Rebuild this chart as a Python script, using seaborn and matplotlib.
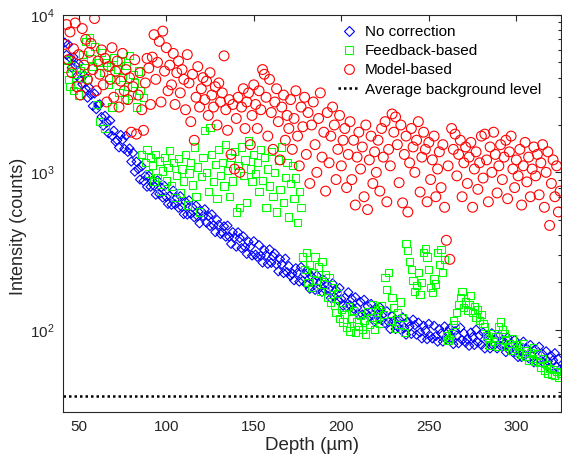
import matplotlib
matplotlib.use("Agg")
import matplotlib.pyplot as plt
import seaborn as sns
import pandas as pd
from matplotlib.lines import Line2D
from matplotlib.ticker import FixedLocator, NullFormatter, LogLocator

# --- data ---
depth = [
    42, 43, 44, 45, 46, 47, 48, 49, 50, 51,
    52, 53, 54, 55, 56, 57, 58, 59, 60, 61,
    62, 63, 64, 65, 66, 67, 68, 69, 70, 71,
    72, 73, 74, 75, 76, 77, 78, 79, 80, 81,
    82, 83, 84, 85, 86, 87, 88, 89, 90, 91,
    92, 93, 94, 95, 96, 97, 98, 99, 100, 101,
    102, 103, 104, 105, 106, 107, 108, 109, 110, 111,
    112, 113, 114, 115, 116, 117, 118, 119, 120, 121,
    122, 123, 124, 125, 126, 127, 128, 129, 130, 131,
    132, 133, 134, 135, 136, 137, 138, 139, 140, 141,
    142, 143, 144, 145, 146, 147, 148, 149, 150, 151,
    152, 153, 154, 155, 156, 157, 158, 159, 160, 161,
    162, 163, 164, 165, 166, 167, 168, 169, 170, 171,
    172, 173, 174, 175, 176, 177, 178, 179, 180, 181,
    182, 183, 184, 185, 186, 187, 188, 189, 190, 191,
    192, 193, 194, 195, 196, 197, 198, 199, 200, 201,
    202, 203, 204, 205, 206, 207, 208, 209, 210, 211,
    212, 213, 214, 215, 216, 217, 218, 219, 220, 221,
    222, 223, 224, 225, 226, 227, 228, 229, 230, 231,
    232, 233, 234, 235, 236, 237, 238, 239, 240, 241,
    242, 243, 244, 245, 246, 247, 248, 249, 250, 251,
    252, 253, 254, 255, 256, 257, 258, 259, 260, 261,
    262, 263, 264, 265, 266, 267, 268, 269, 270, 271,
    272, 273, 274, 275, 276, 277, 278, 279, 280, 281,
    282, 283, 284, 285, 286, 287, 288, 289, 290, 291,
    292, 293, 294, 295, 296, 297, 298, 299, 300, 301,
    302, 303, 304, 305, 306, 307, 308, 309, 310, 311,
    312, 313, 314, 315, 316, 317, 318, 319, 320, 321,
    322, 323, 324, 325,
]

no_correction = [
    6680, 5580, 6500, 5340, 4630, 5400, 4790, 4100, 4900, 3900,
    3630, 4140, 3400, 2980, 3460, 3110, 2640, 3170, 2520, 2680,
    2710, 2250, 1980, 2290, 2070, 1770, 2130, 1710, 1840, 1570,
    1600, 1440, 1730, 1610, 1410, 1710, 1350, 1420, 1170, 1330,
    1010, 1170, 1050, 900, 1090, 880, 950, 810, 950, 810,
    886, 821, 721, 889, 729, 800, 691, 819, 698, 630,
    710, 622, 766, 627, 689, 595, 706, 601, 543, 649,
    539, 665, 545, 599, 518, 615, 525, 474, 567, 528,
    583, 479, 527, 456, 541, 462, 417, 499, 464, 406,
    415, 454, 390, 459, 390, 351, 417, 386, 337, 416,
    382, 330, 392, 335, 303, 362, 337, 296, 365, 300,
    290, 345, 295, 267, 320, 298, 262, 324, 266, 293,
    305, 260, 235, 281, 261, 229, 283, 232, 254, 220,
    227, 206, 246, 230, 202, 250, 205, 226, 195, 232,
    182, 218, 203, 179, 221, 182, 200, 174, 207, 178,
    194, 182, 159, 197, 162, 179, 154, 184, 157, 142,
    160, 141, 173, 143, 157, 136, 161, 138, 125, 150,
    125, 155, 127, 141, 122, 146, 124, 113, 135, 126,
    139, 115, 126, 110, 131, 112, 101, 122, 114, 101,
    105, 116, 100, 120, 103, 93, 112, 105, 94, 116,
    107, 93, 111, 96, 88, 106, 99, 87, 109, 91,
    88, 106, 91, 84, 101, 95, 84, 105, 87, 97,
    102, 88, 81, 98, 92, 82, 103, 86, 95, 83,
    87, 79, 96, 90, 80, 100, 83, 92, 80, 96,
    76, 92, 86, 76, 95, 79, 87, 76, 91, 79,
    86, 81, 72, 89, 74, 82, 72, 86, 74, 67,
    77, 67, 84, 69, 76, 66, 80, 68, 62, 75,
    62, 78, 64, 70, 61, 73, 63, 57, 68, 64,
    71, 58, 65, 56,
]

feedback_based = [
    4600, 5200, 3900, 3500, 4800, 3300, 4200, 3600, 3100, 4400,
    5600, 4600, 6800, 3900, 7200, 5300, 4700, 6300, 2700, 5000,
    2100, 5800, 4300, 1900, 5000, 3600, 4700, 2600, 5400, 3900,
    4500, 3200, 5100, 4000, 2900, 4800, 3500, 5500, 3100, 4200,
    3700, 2600, 4400, 3300, 1300, 3000, 1150, 1400, 980, 1250,
    1100, 870, 1300, 930, 1180, 760, 1020, 1250, 880, 1070,
    1380, 820, 1150, 690, 960, 1230, 740, 1050, 880, 1300,
    620, 990, 1160, 830, 1450, 700, 1080, 560, 940, 1250,
    1850, 1000, 760, 1920, 1300, 870, 1120, 680, 1400, 960,
    1150, 820, 1500, 1030, 700, 1250, 880, 1350, 560, 1100,
    600, 1450, 960, 1200, 640, 1580, 1050, 870, 1300, 980,
    1150, 760, 1400, 890, 1250, 600, 1050, 820, 1350, 700,
    1000, 560, 1200, 780, 1450, 640, 930, 1150, 520, 850,
    1100, 680, 920, 480, 760, 600, 290, 240, 310, 200,
    260, 185, 230, 290, 205, 250, 175, 270, 195, 225,
    160, 215, 150, 185, 142, 128, 170, 118, 135, 112,
    125, 104, 140, 98, 118, 132, 96, 112, 105, 123,
    100, 115, 94, 130, 108, 120, 145, 100, 116, 135,
    110, 142, 125, 215, 180, 230, 115, 160, 138, 102,
    128, 108, 150, 119, 96, 355, 320, 270, 240, 205,
    175, 190, 230, 168, 200, 310, 330, 290, 240, 185,
    172, 210, 195, 310, 260, 325, 230, 280, 92, 85,
    88, 95, 115, 108, 128, 145, 160, 175, 138, 150,
    132, 145, 165, 128, 140, 120, 135, 115, 125, 110,
    105, 92, 88, 80, 95, 84, 90, 78, 105, 112,
    100, 95, 86, 78, 82, 74, 88, 76, 80, 72,
    78, 70, 82, 68, 74, 64, 72, 66, 77, 63,
    70, 62, 58, 66, 55, 60, 53, 57, 52, 56,
    51, 54, 50, 53,
]

model_based = [
    6500, 8700, 5200, 7800, 4300, 6100, 8900, 3500, 5600, 3100,
    8200, 4800, 7000, 3900, 5800, 6600, 4500, 9500, 3300, 5100,
    4200, 6000, 3600, 5300, 2800, 4700, 3900, 6200, 3000, 4400,
    5100, 2600, 3800, 5700, 3300, 4500, 2900, 4000, 1800, 3500,
    5200, 1750, 3100, 4300, 2500, 1850, 3700, 5300, 4600, 2700,
    5400, 7500, 3900, 5000, 6800, 2800, 7900, 4400, 6200, 3300,
    4800, 3600, 5700, 2700, 4300, 5100, 3200, 4500, 3900, 2500,
    5600, 3700, 2100, 4200, 1600, 3000, 4700, 2600, 3400, 4000,
    2900, 3800, 2300, 4300, 3100, 2600, 3500, 2000, 3700, 2800,
    3200, 5500, 2500, 1850, 2900, 1300, 2700, 1050, 2200, 3000,
    1000, 2600, 3400, 1900, 2800, 3200, 1500, 2300, 3600, 2700,
    1900, 3300, 2500, 4500, 4200, 3000, 1700, 3900, 2400, 1400,
    2800, 3400, 2100, 1200, 2600, 3100, 1600, 2300, 1900, 2900,
    1400, 2200, 3300, 1700, 1100, 2600, 1950, 3000, 1300, 2400,
    850, 2000, 2800, 1500, 1000, 2200, 3200, 1250, 1800, 760,
    2400, 1150, 1700, 2600, 2000, 900, 1400, 2300, 1100, 1600,
    1900, 800, 1300, 2100, 900, 1600, 620, 1250, 1800, 1050,
    1450, 700, 2000, 580, 1200, 1700, 850, 1350, 1000, 1600,
    760, 1900, 1250, 2100, 650, 1400, 1100, 2350, 1800, 2250,
    1500, 860, 2000, 640, 1300, 1700, 560, 1150, 1900, 1450,
    1000, 1600, 2100, 750, 1250, 1800, 1400, 650, 1550, 900,
    1200, 1700, 700, 1050, 1350, 800, 1500, 600, 370, 1100,
    280, 1900, 1400, 1750, 950, 1300, 1600, 700, 1150, 1450,
    850, 1250, 1550, 600, 1050, 1350, 780, 1150, 1700, 920,
    1750, 1200, 650, 1450, 1000, 1800, 1300, 740, 1100, 1500,
    900, 1250, 1600, 680, 1350, 1700, 1050, 800, 1200, 950,
    1400, 620, 1100, 1550, 870, 1250, 700, 1050, 1450, 950,
    1300, 720, 1150, 1500, 600, 1000, 1350, 460, 850, 1200,
    700, 1100, 560, 760,
]

background_level = 38

series_labels = ["No correction", "Feedback-based", "Model-based",
                 "Average background level"]

# --- style ---
sns.set_style("white")
plt.rcParams['font.family'] = ['Liberation Sans', 'DejaVu Sans']
plt.rcParams['mathtext.fontset'] = 'custom'
plt.rcParams['mathtext.rm'] = 'Liberation Sans'
plt.rcParams['mathtext.it'] = 'Liberation Sans:italic'
plt.rcParams['mathtext.bf'] = 'Liberation Sans:bold'

df = pd.DataFrame({
    'depth': depth,
    'no_correction': no_correction,
    'feedback_based': feedback_based,
    'model_based': model_based,
})

fig = plt.figure(figsize=(5.62, 4.63), dpi=100)
fig.patch.set_facecolor('white')
ax = fig.add_axes([63 / 562, 1 - 412 / 463, 498 / 562, 397 / 463])

sns.scatterplot(data=df, x='depth', y='no_correction', ax=ax, marker='D', s=21,
                color='#0000ff', facecolor='none', edgecolor='#0000ff', linewidth=0.8)
sns.scatterplot(data=df, x='depth', y='feedback_based', ax=ax, marker='s', s=27,
                color='#00ff00', facecolor='none', edgecolor='#00ff00', linewidth=0.8)
sns.scatterplot(data=df, x='depth', y='model_based', ax=ax, marker='o', s=50,
                color='#ff0000', facecolor='none', edgecolor='#ff0000', linewidth=0.8)
ax.axhline(background_level, color='black', linestyle=(0, (1, 1.2)), linewidth=1.8)

ax.set_yscale('log')
ax.set_xlim(41, 325.5)
ax.set_ylim(30, 1e4)

# MATLAB-like axes
tick_color = '#262626'
for sp in ax.spines.values():
    sp.set_visible(True)
    sp.set_color(tick_color)
    sp.set_linewidth(0.8)
ax.xaxis.set_major_locator(FixedLocator([50, 100, 150, 200, 250, 300]))
ax.yaxis.set_major_locator(LogLocator(base=10, numticks=10))
ax.yaxis.set_minor_locator(LogLocator(base=10, subs=range(2, 10), numticks=20))
ax.yaxis.set_minor_formatter(NullFormatter())
ax.tick_params(which='both', direction='in', top=True, right=True,
               color=tick_color, labelcolor=tick_color, width=0.8)
ax.tick_params(which='major', length=4, labelsize=11, pad=6)
ax.tick_params(which='minor', length=2.2)

ax.set_xlabel('Depth (µm)', fontsize=13.5, color=tick_color, labelpad=2)
ax.set_ylabel('Intensity (counts)', fontsize=13, color=tick_color)
ax.yaxis.set_label_coords((27 - 63) / 498, (412 - 226) / 397)

handles = [
    Line2D([], [], linestyle='none', marker='D', markersize=4.6,
           markerfacecolor='none', markeredgecolor='#0000ff', markeredgewidth=0.8),
    Line2D([], [], linestyle='none', marker='s', markersize=5.2,
           markerfacecolor='none', markeredgecolor='#00ff00', markeredgewidth=0.8),
    Line2D([], [], linestyle='none', marker='o', markersize=7,
           markerfacecolor='none', markeredgecolor='#ff0000', markeredgewidth=0.8),
    Line2D([], [], color='black', linestyle=(0, (1, 1.2)), linewidth=1.8),
]
ax.legend(handles, series_labels, loc='upper left', frameon=False,
          bbox_to_anchor=(338 / 562, 1 - 25 / 463), bbox_transform=fig.transFigure,
          borderaxespad=0, borderpad=0, fontsize=11, handlelength=1.4,
          handletextpad=0.35, labelspacing=0.34, labelcolor='black')

plt.savefig('out.png', dpi=100, facecolor='white')
